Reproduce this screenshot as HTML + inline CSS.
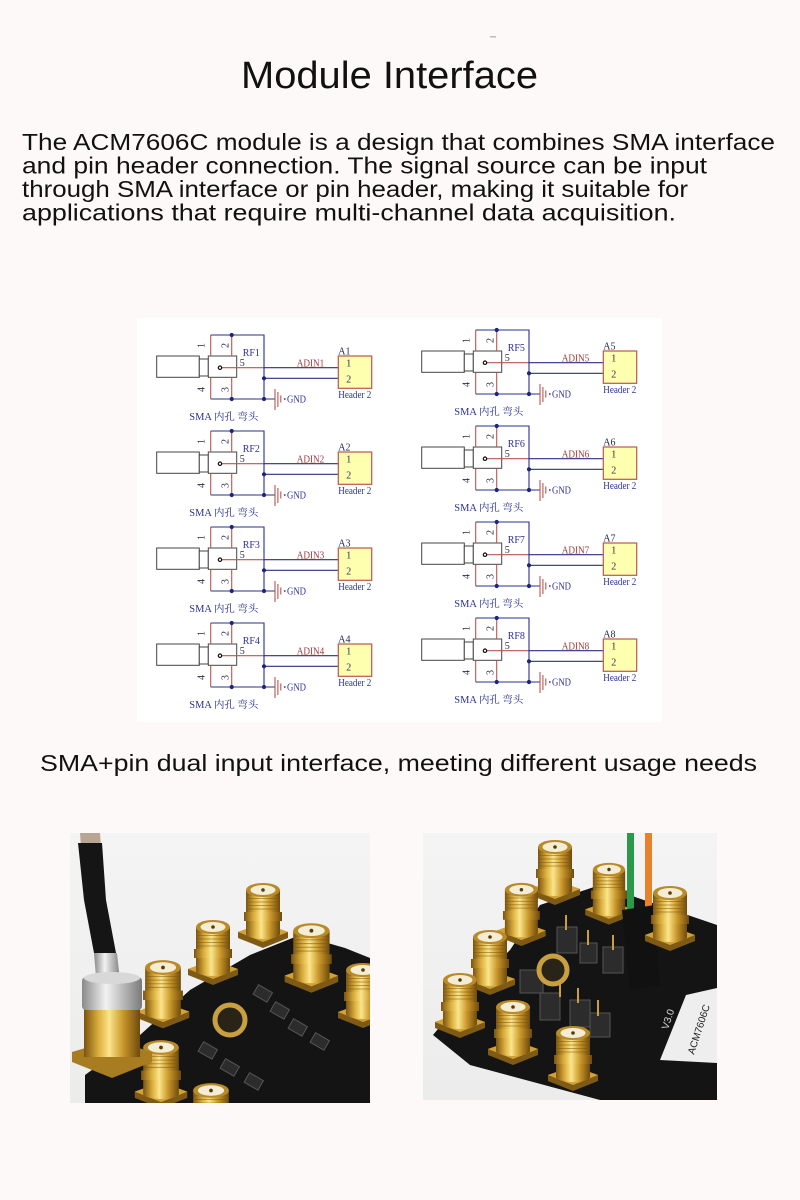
<!DOCTYPE html>
<html><head><meta charset="utf-8"><style>
html,body{margin:0;padding:0;background:#fdf9f9;}
svg{display:block}
.t{font-family:"Liberation Sans",sans-serif;fill:#111}
.s{font-family:"Liberation Serif","Noto Serif CJK SC",serif;font-size:10px}
.nv{fill:#2b3190}.rd{fill:#a83a36}.dk{fill:#2a2a50}
</style></head><body>
<svg width="800" height="1200" viewBox="0 0 800 1200" xmlns="http://www.w3.org/2000/svg">
<defs>
<linearGradient id="gold" x1="0" x2="1" y1="0" y2="0">
<stop offset="0" stop-color="#7a5410"/><stop offset="0.25" stop-color="#d9ab3a"/><stop offset="0.45" stop-color="#fbe58a"/><stop offset="0.7" stop-color="#c9962a"/><stop offset="1" stop-color="#6e4a0c"/>
</linearGradient>
<linearGradient id="silver" x1="0" x2="1" y1="0" y2="0">
<stop offset="0" stop-color="#8a8a8a"/><stop offset="0.4" stop-color="#f2f2f2"/><stop offset="1" stop-color="#7a7a7a"/>
</linearGradient>
<linearGradient id="pbg" x1="0" x2="0" y1="0" y2="1">
<stop offset="0" stop-color="#f4f4f4"/><stop offset="1" stop-color="#ececec"/>
</linearGradient>
<g id="sma">
<path d="M-5 52 L20 43 L45 52 L45 58 L20 68 L-5 58 Z" fill="#7e5a14"/>
<path d="M-5 52 L20 43 L45 52 L20 62 Z" fill="#d2a238"/>
<rect x="3" y="10" width="34" height="44" fill="url(#gold)"/>
<ellipse cx="20" cy="54" rx="17" ry="5" fill="url(#gold)"/>
<rect x="1" y="32" width="38" height="9" fill="url(#gold)"/>
<path d="M3 15H37M3 18.5H37M3 22H37M3 25.5H37M3 29H37" stroke="#7a5610" stroke-width="1" opacity=".5"/>
<ellipse cx="20" cy="10" rx="17" ry="7" fill="#b98a28"/>
<ellipse cx="20" cy="10" rx="12.5" ry="5" fill="#f4edd6"/>
<circle cx="20" cy="10" r="1.8" fill="#5a3a08"/>
</g>
<g id="blk">
<rect x="-51.6" y="21" width="42.6" height="21.3" fill="#fff" stroke="#444" stroke-width="1"/>
<rect x="-9" y="24" width="9" height="17" fill="#fff" stroke="#444" stroke-width="1"/>
<rect x="0" y="21" width="28.4" height="21.3" fill="#fff" stroke="#444" stroke-width="1"/>
<path d="M2.4 0V21M2.4 42.3V64M23.4 0V21M23.4 42.3V64M11.7 32.7H55.7" stroke="#b8574f" stroke-width="1.1" fill="none"/>
<path d="M2.4 0H55.7V64H2.4M55.7 64H66.7M55.7 32.7H130M55.7 43.3H130" stroke="#27308a" stroke-width="1.1" fill="none"/>
<path d="M66.7 54V75M69.6 57V72M72.5 60.5V67.5" stroke="#b8574f" stroke-width="1.1"/>
<circle cx="23.4" cy="0" r="2.1" fill="#1d2380"/><circle cx="23.4" cy="64" r="2.1" fill="#1d2380"/>
<circle cx="55.7" cy="64" r="2.1" fill="#1d2380"/><circle cx="55.7" cy="43.3" r="2.1" fill="#1d2380"/>
<circle cx="11.7" cy="32.7" r="1.7" fill="#fff" stroke="#111" stroke-width="1.2"/>
<rect x="130" y="21" width="33.4" height="32.3" fill="#ffffb0" stroke="#b8574f" stroke-width="1.2"/>
<circle cx="76.5" cy="64" r="0.9" fill="#2b3190"/>
</g>
<clipPath id="c1"><rect x="70" y="833" width="300" height="270"/></clipPath>
<clipPath id="c2"><rect x="423" y="833" width="294" height="267"/></clipPath>
</defs>

<rect x="490" y="36" width="6" height="1.5" fill="#bbb"/>
<text class="t" x="241" y="88" font-size="38" textLength="297" lengthAdjust="spacingAndGlyphs">Module Interface</text>
<text class="t" x="22" y="150" font-size="23" textLength="753" lengthAdjust="spacingAndGlyphs">The ACM7606C module is a design that combines SMA interface</text>
<text class="t" x="22" y="173.5" font-size="23" textLength="685" lengthAdjust="spacingAndGlyphs">and pin header connection. The signal source can be input</text>
<text class="t" x="22" y="197" font-size="23" textLength="666" lengthAdjust="spacingAndGlyphs">through SMA interface or pin header, making it suitable for</text>
<text class="t" x="22" y="220.5" font-size="23" textLength="654" lengthAdjust="spacingAndGlyphs">applications that require multi-channel data acquisition.</text>

<rect x="137" y="318" width="525" height="404" fill="#ffffff"/>

<!-- Left column blocks -->
<g transform="translate(208.3,335)"><use href="#blk"/>
<text class="s nv" x="34.4" y="21">RF1</text><text class="s dk" x="31.5" y="31">5</text>
<text class="s rd" x="88.4" y="31.5" textLength="27.6" lengthAdjust="spacingAndGlyphs">ADIN1</text>
<text class="s dk" x="130" y="19.5">A1</text><text class="s dk" x="138" y="31.5">1</text><text class="s dk" x="138" y="47.5">2</text>
<text class="s nv" x="130" y="63" textLength="33" lengthAdjust="spacingAndGlyphs">Header 2</text>
<text class="s nv" x="78.7" y="67.5" textLength="19" lengthAdjust="spacingAndGlyphs">GND</text>
<text class="s nv" x="-19" y="85" textLength="69" lengthAdjust="spacingAndGlyphs">SMA 内孔 弯头</text>
<text class="s dk" font-size="9" transform="translate(-4,13) rotate(-90)">1</text><text class="s dk" font-size="9" transform="translate(20,13) rotate(-90)">2</text>
<text class="s dk" font-size="9" transform="translate(-4,57) rotate(-90)">4</text><text class="s dk" font-size="9" transform="translate(20,57) rotate(-90)">3</text>
</g>
<g transform="translate(208.3,431)"><use href="#blk"/>
<text class="s nv" x="34.4" y="21">RF2</text><text class="s dk" x="31.5" y="31">5</text>
<text class="s rd" x="88.4" y="31.5" textLength="27.6" lengthAdjust="spacingAndGlyphs">ADIN2</text>
<text class="s dk" x="130" y="19.5">A2</text><text class="s dk" x="138" y="31.5">1</text><text class="s dk" x="138" y="47.5">2</text>
<text class="s nv" x="130" y="63" textLength="33" lengthAdjust="spacingAndGlyphs">Header 2</text>
<text class="s nv" x="78.7" y="67.5" textLength="19" lengthAdjust="spacingAndGlyphs">GND</text>
<text class="s nv" x="-19" y="85" textLength="69" lengthAdjust="spacingAndGlyphs">SMA 内孔 弯头</text>
<text class="s dk" font-size="9" transform="translate(-4,13) rotate(-90)">1</text><text class="s dk" font-size="9" transform="translate(20,13) rotate(-90)">2</text>
<text class="s dk" font-size="9" transform="translate(-4,57) rotate(-90)">4</text><text class="s dk" font-size="9" transform="translate(20,57) rotate(-90)">3</text>
</g>
<g transform="translate(208.3,527)"><use href="#blk"/>
<text class="s nv" x="34.4" y="21">RF3</text><text class="s dk" x="31.5" y="31">5</text>
<text class="s rd" x="88.4" y="31.5" textLength="27.6" lengthAdjust="spacingAndGlyphs">ADIN3</text>
<text class="s dk" x="130" y="19.5">A3</text><text class="s dk" x="138" y="31.5">1</text><text class="s dk" x="138" y="47.5">2</text>
<text class="s nv" x="130" y="63" textLength="33" lengthAdjust="spacingAndGlyphs">Header 2</text>
<text class="s nv" x="78.7" y="67.5" textLength="19" lengthAdjust="spacingAndGlyphs">GND</text>
<text class="s nv" x="-19" y="85" textLength="69" lengthAdjust="spacingAndGlyphs">SMA 内孔 弯头</text>
<text class="s dk" font-size="9" transform="translate(-4,13) rotate(-90)">1</text><text class="s dk" font-size="9" transform="translate(20,13) rotate(-90)">2</text>
<text class="s dk" font-size="9" transform="translate(-4,57) rotate(-90)">4</text><text class="s dk" font-size="9" transform="translate(20,57) rotate(-90)">3</text>
</g>
<g transform="translate(208.3,623)"><use href="#blk"/>
<text class="s nv" x="34.4" y="21">RF4</text><text class="s dk" x="31.5" y="31">5</text>
<text class="s rd" x="88.4" y="31.5" textLength="27.6" lengthAdjust="spacingAndGlyphs">ADIN4</text>
<text class="s dk" x="130" y="19.5">A4</text><text class="s dk" x="138" y="31.5">1</text><text class="s dk" x="138" y="47.5">2</text>
<text class="s nv" x="130" y="63" textLength="33" lengthAdjust="spacingAndGlyphs">Header 2</text>
<text class="s nv" x="78.7" y="67.5" textLength="19" lengthAdjust="spacingAndGlyphs">GND</text>
<text class="s nv" x="-19" y="85" textLength="69" lengthAdjust="spacingAndGlyphs">SMA 内孔 弯头</text>
<text class="s dk" font-size="9" transform="translate(-4,13) rotate(-90)">1</text><text class="s dk" font-size="9" transform="translate(20,13) rotate(-90)">2</text>
<text class="s dk" font-size="9" transform="translate(-4,57) rotate(-90)">4</text><text class="s dk" font-size="9" transform="translate(20,57) rotate(-90)">3</text>
</g>

<!-- Right column blocks -->
<g transform="translate(473.3,330)"><use href="#blk"/>
<text class="s nv" x="34.4" y="21">RF5</text><text class="s dk" x="31.5" y="31">5</text>
<text class="s rd" x="88.4" y="31.5" textLength="27.6" lengthAdjust="spacingAndGlyphs">ADIN5</text>
<text class="s dk" x="130" y="19.5">A5</text><text class="s dk" x="138" y="31.5">1</text><text class="s dk" x="138" y="47.5">2</text>
<text class="s nv" x="130" y="63" textLength="33" lengthAdjust="spacingAndGlyphs">Header 2</text>
<text class="s nv" x="78.7" y="67.5" textLength="19" lengthAdjust="spacingAndGlyphs">GND</text>
<text class="s nv" x="-19" y="85" textLength="69" lengthAdjust="spacingAndGlyphs">SMA 内孔 弯头</text>
<text class="s dk" font-size="9" transform="translate(-4,13) rotate(-90)">1</text><text class="s dk" font-size="9" transform="translate(20,13) rotate(-90)">2</text>
<text class="s dk" font-size="9" transform="translate(-4,57) rotate(-90)">4</text><text class="s dk" font-size="9" transform="translate(20,57) rotate(-90)">3</text>
</g>
<g transform="translate(473.3,426)"><use href="#blk"/>
<text class="s nv" x="34.4" y="21">RF6</text><text class="s dk" x="31.5" y="31">5</text>
<text class="s rd" x="88.4" y="31.5" textLength="27.6" lengthAdjust="spacingAndGlyphs">ADIN6</text>
<text class="s dk" x="130" y="19.5">A6</text><text class="s dk" x="138" y="31.5">1</text><text class="s dk" x="138" y="47.5">2</text>
<text class="s nv" x="130" y="63" textLength="33" lengthAdjust="spacingAndGlyphs">Header 2</text>
<text class="s nv" x="78.7" y="67.5" textLength="19" lengthAdjust="spacingAndGlyphs">GND</text>
<text class="s nv" x="-19" y="85" textLength="69" lengthAdjust="spacingAndGlyphs">SMA 内孔 弯头</text>
<text class="s dk" font-size="9" transform="translate(-4,13) rotate(-90)">1</text><text class="s dk" font-size="9" transform="translate(20,13) rotate(-90)">2</text>
<text class="s dk" font-size="9" transform="translate(-4,57) rotate(-90)">4</text><text class="s dk" font-size="9" transform="translate(20,57) rotate(-90)">3</text>
</g>
<g transform="translate(473.3,522)"><use href="#blk"/>
<text class="s nv" x="34.4" y="21">RF7</text><text class="s dk" x="31.5" y="31">5</text>
<text class="s rd" x="88.4" y="31.5" textLength="27.6" lengthAdjust="spacingAndGlyphs">ADIN7</text>
<text class="s dk" x="130" y="19.5">A7</text><text class="s dk" x="138" y="31.5">1</text><text class="s dk" x="138" y="47.5">2</text>
<text class="s nv" x="130" y="63" textLength="33" lengthAdjust="spacingAndGlyphs">Header 2</text>
<text class="s nv" x="78.7" y="67.5" textLength="19" lengthAdjust="spacingAndGlyphs">GND</text>
<text class="s nv" x="-19" y="85" textLength="69" lengthAdjust="spacingAndGlyphs">SMA 内孔 弯头</text>
<text class="s dk" font-size="9" transform="translate(-4,13) rotate(-90)">1</text><text class="s dk" font-size="9" transform="translate(20,13) rotate(-90)">2</text>
<text class="s dk" font-size="9" transform="translate(-4,57) rotate(-90)">4</text><text class="s dk" font-size="9" transform="translate(20,57) rotate(-90)">3</text>
</g>
<g transform="translate(473.3,618)"><use href="#blk"/>
<text class="s nv" x="34.4" y="21">RF8</text><text class="s dk" x="31.5" y="31">5</text>
<text class="s rd" x="88.4" y="31.5" textLength="27.6" lengthAdjust="spacingAndGlyphs">ADIN8</text>
<text class="s dk" x="130" y="19.5">A8</text><text class="s dk" x="138" y="31.5">1</text><text class="s dk" x="138" y="47.5">2</text>
<text class="s nv" x="130" y="63" textLength="33" lengthAdjust="spacingAndGlyphs">Header 2</text>
<text class="s nv" x="78.7" y="67.5" textLength="19" lengthAdjust="spacingAndGlyphs">GND</text>
<text class="s nv" x="-19" y="85" textLength="69" lengthAdjust="spacingAndGlyphs">SMA 内孔 弯头</text>
<text class="s dk" font-size="9" transform="translate(-4,13) rotate(-90)">1</text><text class="s dk" font-size="9" transform="translate(20,13) rotate(-90)">2</text>
<text class="s dk" font-size="9" transform="translate(-4,57) rotate(-90)">4</text><text class="s dk" font-size="9" transform="translate(20,57) rotate(-90)">3</text>
</g>

<text class="t" x="40" y="771" font-size="23" textLength="717" lengthAdjust="spacingAndGlyphs">SMA+pin dual input interface, meeting different usage needs</text>

<!-- Left photo -->
<g clip-path="url(#c1)">
<rect x="70" y="833" width="300" height="270" fill="url(#pbg)"/>
<polygon points="85,1075 140,1035 190,990 250,955 300,935 345,948 370,958 370,1103 85,1103" fill="#141414"/>
<g fill="#2c2c2c" stroke="#555" stroke-width="1">
<rect x="255" y="988" width="16" height="11" transform="rotate(30 263 993)"/>
<rect x="272" y="1005" width="16" height="11" transform="rotate(30 280 1010)"/>
<rect x="290" y="1022" width="16" height="11" transform="rotate(30 298 1027)"/>
<rect x="312" y="1036" width="16" height="11" transform="rotate(30 320 1041)"/>
<rect x="200" y="1045" width="16" height="11" transform="rotate(30 208 1050)"/>
<rect x="222" y="1062" width="16" height="11" transform="rotate(30 230 1067)"/>
<rect x="246" y="1076" width="16" height="11" transform="rotate(30 254 1081)"/>
</g>
<circle cx="230" cy="1020" r="15" fill="#2a2418" stroke="#c9a040" stroke-width="5"/>
<use href="#sma" transform="translate(243,880)"/>
<use href="#sma" transform="translate(193,917)"/>
<use href="#sma" transform="translate(290,920) scale(1.07)"/>
<use href="#sma" transform="translate(142,957) scale(1.05)"/>
<use href="#sma" transform="translate(343,960)"/>
<use href="#sma" transform="translate(140,1037) scale(1.05)"/>
<use href="#sma" transform="translate(190,1080) scale(1.05)"/>
<polygon points="80,833 100,833 101,847 81,847" fill="#b9a594"/>
<polygon points="78,843 102,843 106,900 116,953 94,953 84,900" fill="#151515"/>
<polygon points="94,953 117,953 121,990 97,990" fill="url(#silver)"/>
<path d="M72 1052 L112 1040 L152 1052 L152 1062 L112 1078 L72 1062 Z" fill="#a87c20"/>
<rect x="84" y="1005" width="56" height="52" fill="url(#gold)"/>
<rect x="82" y="977" width="60" height="33" rx="4" fill="url(#silver)"/>
<ellipse cx="112" cy="978" rx="28" ry="6" fill="#d8d8d8"/>
</g>

<!-- Right photo -->
<g clip-path="url(#c2)">
<rect x="423" y="833" width="294" height="267" fill="url(#pbg)"/>
<polygon points="433,1035 470,990 510,950 540,905 600,885 717,925 717,1100 600,1100 470,1065" fill="#141414"/>
<g fill="#2c2c2c" stroke="#555" stroke-width="1">
<rect x="557" y="927" width="20" height="26"/>
<rect x="580" y="943" width="17" height="20"/>
<rect x="603" y="947" width="20" height="26"/>
<rect x="520" y="970" width="23" height="23"/>
<rect x="540" y="993" width="20" height="27"/>
<rect x="570" y="1000" width="20" height="27"/>
<rect x="590" y="1013" width="20" height="24"/>
</g>
<path d="M566 930V915M588 945V930M560 997V980M578 1003V988M598 1016V1000M613 950V935" stroke="#c9a040" stroke-width="2"/>
<circle cx="553" cy="970" r="14" fill="#2a2418" stroke="#c9a040" stroke-width="5"/>
<polygon points="660,1060 686,995 717,988 717,1063" fill="#eeeeee"/>
<text font-family="Liberation Sans,sans-serif" font-size="10" fill="#222" transform="translate(694,1055) rotate(-72)">ACM7606C</text>
<text font-family="Liberation Sans,sans-serif" font-size="10" fill="#ddd" transform="translate(668,1030) rotate(-72)">V3.0</text>
<use href="#sma" transform="translate(535,837)"/>
<use href="#sma" transform="translate(590,860) scale(0.95)"/>
<use href="#sma" transform="translate(502,880) scale(0.97)"/>
<rect x="627" y="833" width="7" height="94" fill="#2a9a4a"/>
<rect x="645" y="833" width="7" height="77" fill="#e8822a"/>
<polygon points="622,910 655,905 660,985 630,990" fill="#111"/>
<use href="#sma" transform="translate(650,883)"/>
<use href="#sma" transform="translate(470,927)"/>
<use href="#sma" transform="translate(440,970)"/>
<use href="#sma" transform="translate(493,997)"/>
<use href="#sma" transform="translate(553,1023)"/>
</g>
</svg>
</body></html>
